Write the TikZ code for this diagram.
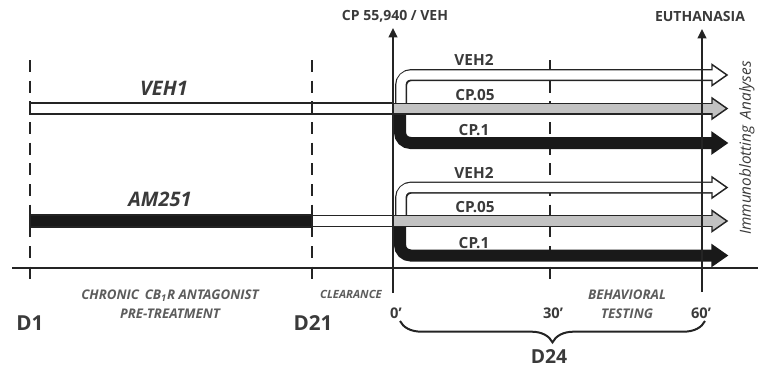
\documentclass[tikz,border=0pt]{standalone}
\usepackage{fontspec}
\setmainfont{Open Sans}
\usetikzlibrary{arrows.meta,decorations.pathreplacing}
\definecolor{tldark}{RGB}{36,36,36}
\definecolor{tltext}{RGB}{58,58,58}
\definecolor{tlsoft}{RGB}{92,92,92}
\definecolor{tlgray}{RGB}{194,194,194}
\tikzset{
  daymark/.style={line width=1.7pt,draw=tldark,dash pattern=on 9pt off 6.5pt},
  timeline/.style={line width=1.5pt,draw=tldark,-{Triangle[length=7pt,width=6.5pt]}},
  shaftout/.style={line width=9pt,draw=tldark,rounded corners=8pt},
  shaftin/.style={line width=6.8pt,rounded corners=7pt},
  headtip/.style={line width=1.1pt,draw=tldark,line join=miter},
  bar/.style={line width=1.1pt,draw=tldark},
  grouplab/.style={font=\fontsize{15}{17}\selectfont\bfseries\itshape,text=tltext},
  armlab/.style={font=\fontsize{11.5}{13}\selectfont\bfseries,text=tltext},
  toplab/.style={font=\fontsize{10.5}{12}\selectfont\bfseries,text=tltext},
  daylab/.style={font=\fontsize{15.5}{18}\selectfont\bfseries,text=tltext},
  minlab/.style={font=\fontsize{11}{13}\selectfont\bfseries,text=tltext},
  phase/.style={font=\fontsize{10}{14}\selectfont\bfseries\itshape,text=tlsoft,align=center},
}

\begin{document}
\begin{tikzpicture}[x=0.75pt,y=-0.75pt]
  \useasboundingbox (0,0) rectangle (758,372);

  % day marks (behind everything)
  \draw[daymark] (30,60) -- (30,284);
  \draw[daymark] (312,60) -- (312,284);
  \draw[daymark] (550,60) -- (550,284);

  % pre-treatment bars
  \draw[bar,fill=white] (30,103) rectangle (312,114);
  \draw[bar,fill=white] (312,103) rectangle (393,114);
  \draw[bar,fill=black!90] (30,215) rectangle (312,227);
  \draw[bar,fill=white] (312,215.5) rectangle (393,226.5);

  % acute arms, one group per pre-treatment
  \foreach \yb in {108.5,221}{
    % VEH2
    \draw[shaftout] (401,\yb) -- (401,{\yb-33.5}) -- (713,{\yb-33.5});
    \filldraw[headtip,fill=white] (712,{\yb-44}) -- (727,{\yb-33.5}) -- (712,{\yb-23}) -- cycle;
    \draw[shaftin,draw=white] (401,\yb) -- (401,{\yb-33.5}) -- (714,{\yb-33.5});
    % CP.1
    \draw[shaftout,draw=black!90] (400,\yb) -- (400,{\yb+34.5}) -- (713,{\yb+34.5});
    \filldraw[headtip,fill=black!90,draw=black!90] (712,{\yb+24}) -- (727,{\yb+34.5}) -- (712,{\yb+45}) -- cycle;
    % CP.05
    \draw[shaftout] (393,\yb) -- (713,\yb);
    \filldraw[headtip,fill=tlgray] (712,{\yb-10.5}) -- (727,\yb) -- (712,{\yb+10.5}) -- cycle;
    \draw[shaftin,draw=tlgray] (393,\yb) -- (714,\yb);
  }

  % axis and injection / euthanasia marks
  \draw[line width=1.9pt,draw=tldark] (12,268) -- (758,268);
  \coordinate (cpfoot) at (393,293);
  \coordinate (cptop) at (393,28);
  \coordinate (eufoot) at (702,292);
  \coordinate (eutop) at (702,29);
  \draw[timeline] (cpfoot) -- (cptop);
  \draw[timeline] (eufoot) -- (eutop);
  \node[toplab] (cplab) at (395,16) {CP 55,940 / VEH};
  \node[toplab] (eulab) at (700,16) {EUTHANASIA};

  % arm labels
  \node[grouplab] (veh1) at (164,88) {VEH1};
  \node[grouplab] (am251) at (160,199) {AM251};
  \node[armlab] (vehtwoa) at (474,60) {VEH2};
  \node[armlab] (cpfivea) at (475,95) {CP.05};
  \node[armlab] (cponea) at (474,130) {CP.1};
  \node[armlab] (vehtwob) at (474,173) {VEH2};
  \node[armlab] (cpfiveb) at (475,207) {CP.05};
  \node[armlab] (cponeb) at (474,243) {CP.1};
  \node[rotate=90,font=\fontsize{11.5}{13}\selectfont\itshape,text=tltext] (immuno) at (747,148) {Immunoblotting\, Analyses};

  % time labels
  \node[daylab] (d1) at (30,323) {D1};
  \node[daylab] (d21) at (313,323) {D21};
  \node[phase] (chronic) at (170,304) {CHRONIC\, CB\textsubscript{1}R ANTAGONIST\\PRE-TREATMENT};
  \node[phase,font=\fontsize{8.5}{10}\selectfont\bfseries\itshape] (clear) at (351,294) {CLEARANCE};
  \node[phase] (behav) at (627,304) {BEHAVIORAL\\TESTING};
  \node[minlab] (m0) at (396,313) {0’};
  \node[minlab] (m30) at (553,313) {30’};
  \node[minlab] (m60) at (701,313) {60’};
  \coordinate (bl) at (400,321);
  \coordinate (br) at (705,321);
  \draw[line width=1.5pt,draw=tldark,decorate,decoration={brace,mirror,amplitude=16pt}] (bl) -- (br);
  \node[daylab,font=\fontsize{14.5}{17}\selectfont\bfseries] (d24) at (549,356) {D24};
\end{tikzpicture}
\end{document}
